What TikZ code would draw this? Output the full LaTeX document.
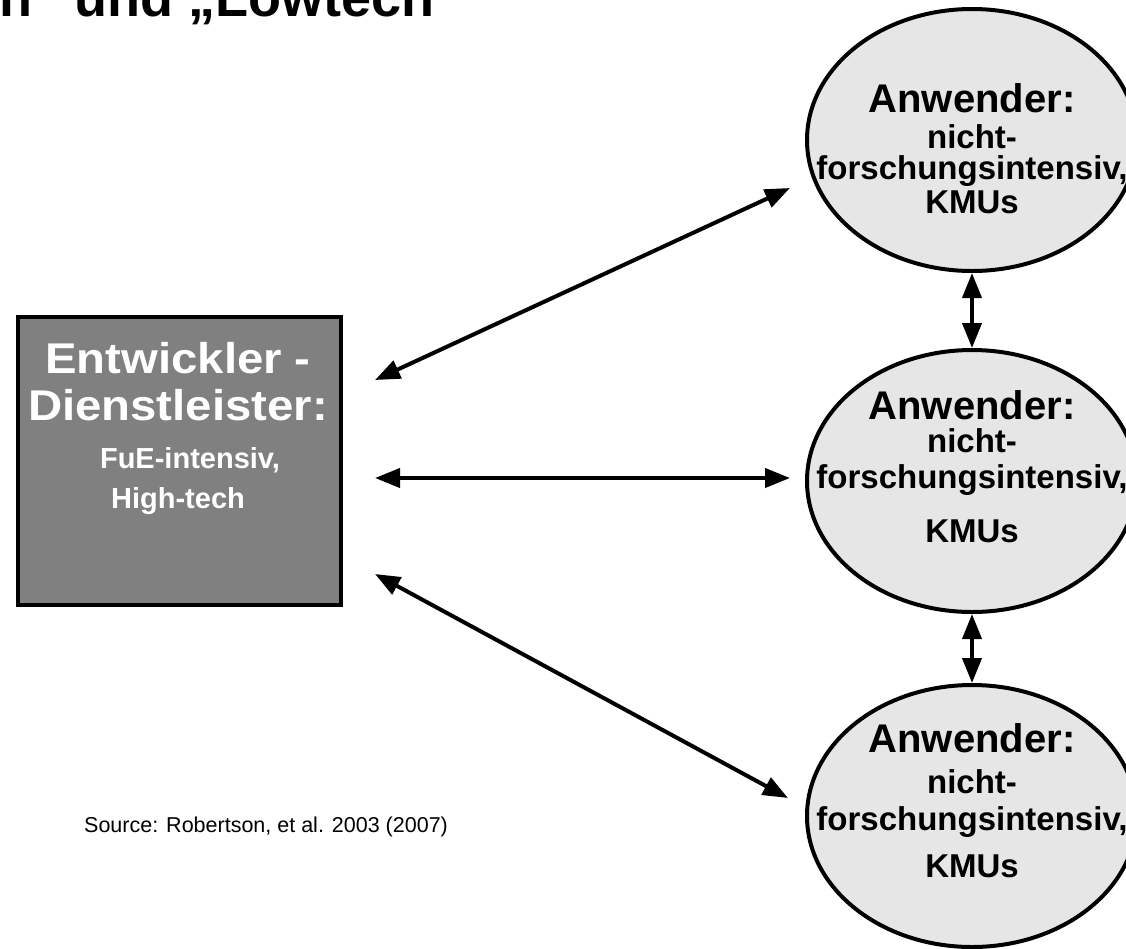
\documentclass[tikz,border=0pt]{standalone}
\usepackage{fontspec}
\setmainfont{Liberation Sans}
\newfontfamily\widefont[FakeStretch=1.1]{Liberation Sans}
\usetikzlibrary{arrows.meta,shapes.geometric}
\definecolor{devgray}{HTML}{808080}
\definecolor{anwgray}{HTML}{E6E6E6}

\tikzset{
  anwender/.style={ellipse, draw=black, line width=4pt, fill=anwgray,
    minimum width=330pt, minimum height=262pt, inner sep=0pt},
  anwtext/.style={align=center, anchor=base, inner sep=0pt,
    font=\bfseries\fontsize{33}{31}\selectfont},
  link/.style={line width=4pt,
    {Triangle[length=25pt,width=19pt]}-{Triangle[length=25pt,width=19pt]}}
}

\begin{document}
\begin{tikzpicture}[x=1pt, y=-1pt]

  \useasboundingbox (0,0) rectangle (1126,948);
  \clip (0,0) rectangle (1126,948);

  %title, cut off at the top
  \node[anchor=base west, inner sep=0pt, font=\bfseries\fontsize{54}{54}\selectfont] (title) at (-226,16)
    {„Hightech“ und „Lowtech“};

  %developer box (text placed by its last line)
  \node[draw=black, line width=4pt, fill=devgray, minimum width=323pt, minimum height=288pt, inner sep=0pt] (dev) at (179.5,461) {};
  \node[anchor=base, align=center, inner sep=0pt, text=white, font=\bfseries\fontsize{29}{40}\selectfont] (devtext) at (178,508)
    {{\widefont\fontsize{43}{40}\selectfont Entwickler -}\\[7pt]{\widefont\fontsize{43}{40}\selectfont Dienstleister:}\\[8pt]\hspace*{24pt}FuE-intensiv,\\High-tech};

  %users
  \node[anwender] (anw1) at (972,140) {};
  \node[anwender] (anw2) at (972,481) {};
  \node[anwender] (anw3) at (972,816) {};

  \node[anwtext] (anw1t) at (972,213)
    {{\fontsize{40}{31}\selectfont Anwender:}\\[5pt]nicht-\\forschungsintensiv,\\[3pt]KMUs};
  \node[anwtext] (anw2t) at (972,542)
    {{\fontsize{40}{31}\selectfont Anwender:}\\[2pt]nicht-\\[5pt]forschungsintensiv,\\[23pt]KMUs};
  \node[anwtext] (anw3t) at (972,877)
    {{\fontsize{40}{31}\selectfont Anwender:}\\[10pt]nicht-\\[6pt]forschungsintensiv,\\[16pt]KMUs};

  %arrows
  \draw[link] ([shift={(32,-81)}]dev.east) -- ([shift={(-15,48)}]anw1.west);
  \draw[link] ([shift={(32,17)}]dev.east) -- ([shift={(-15,-3)}]anw2.west);
  \draw[link] ([shift={(32,113)}]dev.east) -- ([shift={(-17,-18)}]anw3.west);
  \draw[link] (anw1) -- (anw2);
  \draw[link] (anw2) -- (anw3);

  %source
  \node[anchor=base west, inner sep=0pt, font=\fontsize{21.5}{24}\selectfont] (src) at (84,832)
    {Source: Robertson, et al. 2003 (2007)};

\end{tikzpicture}
\end{document}
